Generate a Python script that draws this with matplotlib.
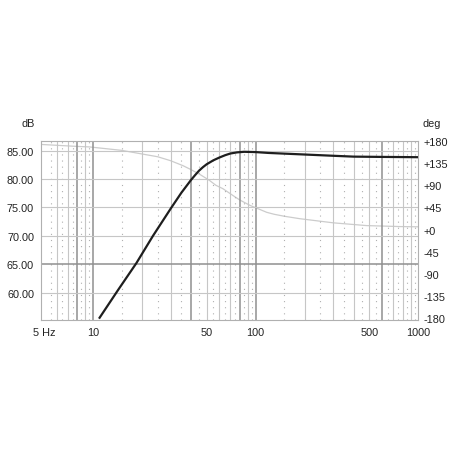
import matplotlib
matplotlib.use("Agg")
import matplotlib.pyplot as plt
import numpy as np

plt.rcParams['font.family'] = ['Liberation Sans', 'DejaVu Sans']

# Magnitude (black) curve
mag_freq = [11, 14.3, 18.5, 23.4, 30.4, 35, 40, 42.5, 45, 47.5, 50, 55, 60, 65, 70, 77, 85, 100, 120, 190, 300, 400, 600, 1000]
mag_db = [55.6, 60.5, 65.2, 70.0, 75.0, 77.6, 79.8, 80.7, 81.5, 82.1, 82.6, 83.3, 83.8, 84.2, 84.5, 84.7, 84.8, 84.75, 84.6, 84.35, 84.1, 83.95, 83.9, 83.85]

# Phase (grey) curve
ph_freq = [4.8, 8, 9.5, 15, 25, 30, 35.7, 40, 46, 52, 57, 63, 72.7, 80, 92.5, 105, 117, 130, 150, 187, 300, 480, 770, 1000]
ph_deg = [173, 169, 168, 161, 148, 140, 130, 122, 111, 100, 90, 83, 69, 60, 49, 41.5, 35, 31, 27, 22, 13.6, 8, 6, 5.5]

x_ticks = [5, 10, 50, 100, 500, 1000]
x_labels = ["5 Hz", "10", "50", "100", "500", "1000"]
db_ticks = [60, 65, 70, 75, 80, 85]
db_labels = ["60.00", "65.00", "70.00", "75.00", "80.00", "85.00"]
deg_ticks = [-180, -135, -90, -45, 0, 45, 90, 135, 180]
deg_labels = ["-180", "-135", "-90", "-45", "+0", "+45", "+90", "+135", "+180"]

grid_solid = [6, 7, 8, 9, 10, 20, 30, 40, 50, 60, 70, 80, 90, 100,
              200, 300, 400, 500, 600, 700, 800, 900]
grid_dark = [8, 10, 40, 80, 100, 600]
grid_dotted = [5.5, 6.5, 7.5, 8.5, 9.5, 15, 25, 35, 45, 55, 65, 75, 85, 95,
               150, 250, 350, 450, 550, 650, 750, 850, 950]

fig = plt.figure(figsize=(4.52, 4.52), dpi=100)
ax = fig.add_axes([41/452, 1-321/452, (418.3-41)/452, (321-142)/452])
ax.set_xscale('log')
ax.set_xlim(4.8, 1000)
ax.set_ylim(55.2, 86.7)

for f in grid_solid:
    if f in grid_dark:
        ax.axvline(f, color='#909090', lw=1.1, zorder=1)
    else:
        ax.axvline(f, color='#c6c6c6', lw=0.8, zorder=1)
for f in grid_dotted:
    ax.axvline(f, color='#b0b0b0', lw=0.8, ls=(0, (1, 4.5)), zorder=1)
for d in db_ticks:
    if d == 65:
        ax.axhline(d, color='#909090', lw=1.1, zorder=1)
    else:
        ax.axhline(d, color='#c6c6c6', lw=0.8, zorder=1)

for s in ax.spines.values():
    s.set_color('#b0b0b0')
    s.set_linewidth(0.8)

ax.set_xticks(x_ticks)
ax.set_xticklabels(x_labels)
ax.xaxis.set_minor_locator(matplotlib.ticker.NullLocator())
ax.set_yticks(db_ticks)
ax.set_yticklabels(db_labels)
ax.tick_params(axis='both', length=0, labelsize=7.8, colors='#222222')
ax.tick_params(axis='x', pad=5)
ax.tick_params(axis='y', pad=5)

ax2 = ax.twinx()
ax2.set_ylim(-184, 180)
ax2.set_yticks(deg_ticks)
ax2.set_yticklabels(deg_labels)
ax2.tick_params(axis='y', length=0, labelsize=7.8, colors='#222222', pad=4)
for s in ax2.spines.values():
    s.set_visible(False)

ax2.plot(ph_freq, ph_deg, color='#cccccc', lw=0.9, zorder=3)
ax.plot(mag_freq, mag_db, color='#1e1e1e', lw=1.6, zorder=4)
ax.set_zorder(ax2.get_zorder() + 1)
ax.patch.set_visible(False)

fig.text(28/452, 1-124/452, "dB", ha='center', va='center', fontsize=7.8, color='#222222')
fig.text(432/452, 1-124/452, "deg", ha='center', va='center', fontsize=7.8, color='#222222')

fig.savefig("out.png", dpi=100)
